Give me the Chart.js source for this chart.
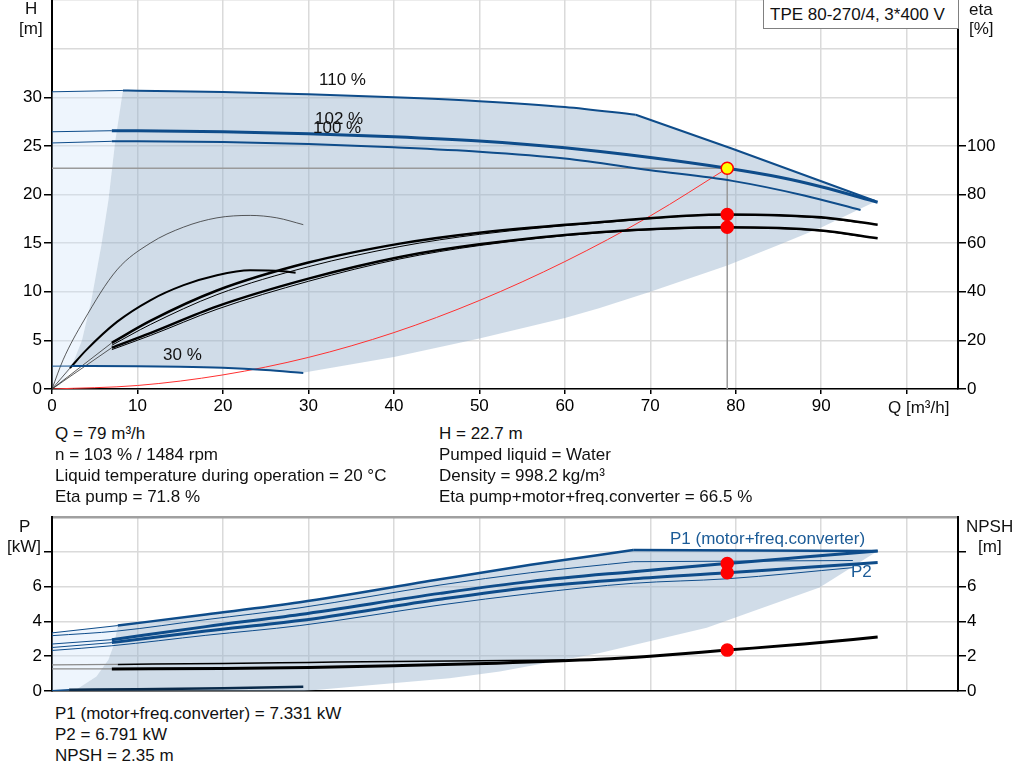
<!DOCTYPE html>
<html>
<head>
<meta charset="utf-8">
<script src="https://cdn.jsdelivr.net/npm/chart.js@4.4.1/dist/chart.umd.min.js"></script>
<style>
  body { margin: 0; background: #fff; width: 1024px; height: 781px; overflow: hidden; position: relative;
         font-family: "Liberation Sans", Arial, sans-serif; font-size: 17px; color: #111; }
  canvas { position: absolute; left: 0; }
  .t { position: absolute; white-space: nowrap; line-height: 20px; }
  .blue { color: #1b5b97; }
  #title { position: absolute; left: 763px; top: -1px; width: 188px; height: 28px; line-height: 29px;
           padding-left: 6px; border: 1px solid #808080; background: #fff; color: #111; }
</style>
</head>
<body>
<canvas id="top" width="1024" height="420" style="top:0"></canvas>
<canvas id="bottom" width="1024" height="200" style="top:500px"></canvas>

<div id="title">TPE 80-270/4, 3*400 V</div>
<div class="t" style="left:25px;top:-1px">H</div>
<div class="t" style="left:19px;top:19px">[m]</div>
<div class="t" style="left:969px;top:0px">eta</div>
<div class="t" style="left:969px;top:19px">[%]</div>
<div class="t" style="left:888px;top:398px">Q [m³/h]</div>

<div class="t" style="left:319px;top:70px">110 %</div>
<div class="t" style="left:315px;top:109px">102 %</div>
<div class="t" style="left:313px;top:118px">100 %</div>
<div class="t" style="left:163px;top:345px">30 %</div>

<div class="t" style="left:55px;top:424px">Q = 79 m³/h</div>
<div class="t" style="left:55px;top:445px">n = 103 % / 1484 rpm</div>
<div class="t" style="left:55px;top:466px">Liquid temperature during operation = 20 °C</div>
<div class="t" style="left:55px;top:487px">Eta pump = 71.8 %</div>
<div class="t" style="left:439px;top:424px">H = 22.7 m</div>
<div class="t" style="left:439px;top:445px">Pumped liquid = Water</div>
<div class="t" style="left:439px;top:466px">Density = 998.2 kg/m³</div>
<div class="t" style="left:439px;top:487px">Eta pump+motor+freq.converter = 66.5 %</div>

<div class="t" style="left:19px;top:517px">P</div>
<div class="t" style="left:7px;top:537px">[kW]</div>
<div class="t" style="left:966px;top:517px">NPSH</div>
<div class="t" style="left:978px;top:537px">[m]</div>
<div class="t blue" style="left:670px;top:529px">P1 (motor+freq.converter)</div>
<div class="t blue" style="left:851px;top:562px">P2</div>

<div class="t" style="left:55px;top:704px">P1 (motor+freq.converter) = 7.331 kW</div>
<div class="t" style="left:55px;top:725px">P2 = 6.791 kW</div>
<div class="t" style="left:55px;top:746px">NPSH = 2.35 m</div>

<script>
// axis ticks
const qTicks = [0, 10, 20, 30, 40, 50, 60, 70, 80, 90, 100];
const hTicks = [0, 5, 10, 15, 20, 25, 30, 35, 40];
const etaTicks = [0, 20, 40, 60, 80, 100];
const pTicks = [0, 2, 4, 6, 8, 10];
const npshTicks = [0, 2, 4, 6, 8];

// duty point
const dutyQ = 79;
const dutyH = 22.7;
const dutyEtaPump = 71.8;
const dutyEtaTotal = 66.5;
const dutyP1 = 7.331;
const dutyP2 = 6.791;
const dutyNpsh = 2.35;

// QH curves (m3/h, m)
const h110LeadQ = [0, 8.3];
const h110Lead = [30.56, 30.7];
const h110Q = [8.3, 10, 20, 30, 40, 50, 60, 68.3];
const h110 = [30.7, 30.67, 30.55, 30.3, 30.0, 29.6, 29.0, 28.2];
const h110TailQ = [68.3, 79.6, 96.4];
const h110Tail = [28.2, 24.7, 19.3];
const h102LeadQ = [0, 7];
const h102Lead = [26.45, 26.56];
const h102Q = [7, 10, 20, 30, 40, 50, 60, 70, 79, 85, 90, 96.6];
const h102 = [26.56, 26.55, 26.45, 26.25, 25.95, 25.5, 24.8, 23.8, 22.7, 21.8, 20.8, 19.2];
const h100LeadQ = [0, 7];
const h100Lead = [25.3, 25.47];
const h100Q = [7, 10, 20, 30, 40, 50, 60, 70, 79.6, 88, 94.6];
const h100 = [25.47, 25.47, 25.4, 25.2, 24.85, 24.4, 23.7, 22.5, 21.4, 19.9, 18.4];
const h30LeadQ = [0, 2.3];
const h30Lead = [2.35, 2.36];
const h30Q = [2.3, 10, 15, 20, 25, 29.4];
const h30 = [2.36, 2.35, 2.3, 2.18, 1.95, 1.65];
const sysQ = [0, 10, 20, 30, 40, 50, 60, 70, 79];
const sysH = [0, 0.36, 1.45, 3.25, 5.8, 9.1, 13.1, 17.8, 22.7];

// operating areas, top chart
const lightTopQ = [0, 1, 1.7, 2.3, 3.5, 4.6, 5.8, 6.6, 7.4, 8.3, 0];
const lightTopH = [0, 0.44, 1.3, 2.35, 5.0, 9.1, 14.9, 19.4, 25.5, 30.7, 30.56];
const areaTopQ = [2.3, 3.5, 4.6, 5.8, 6.6, 7.4, 8.3, 20, 30, 40, 50, 60, 68.3, 79.6, 96.4, 90, 85, 79, 70, 64, 60, 50, 40, 29.5, 25, 20, 10, 2.3];
const areaTopH = [2.35, 5.0, 9.1, 14.9, 19.4, 25.5, 30.7, 30.55, 30.3, 30.0, 29.6, 29.0, 28.2, 24.7, 19.3, 16.6, 14.8, 12.7, 10.0, 8.3, 7.3, 5.2, 3.3, 1.7, 1.95, 2.18, 2.35, 2.35];

// efficiency curves (%)
const eta30PumpQ = [0, 1.3, 3.7, 7.6, 11.5, 15.4, 19.3, 23.2, 26.3, 29.4];
const eta30Pump = [0, 12, 28, 49, 60, 66.6, 70.4, 71.4, 70.4, 67.6];
const eta30TotLeadQ = [0, 2.1];
const eta30TotLead = [0, 8.6];
const eta30TotQ = [2.1, 4, 7.6, 11.5, 15.4, 19.3, 23.2, 27, 28.5];
const eta30Tot = [8.6, 16, 27.6, 36.5, 42.7, 46.8, 48.8, 48.4, 47.8];
const etaLeadQ = [0, 7];
const etaPumpLead = [0, 19];
const etaTotLead = [0, 17];
const etaQ = [7, 11.5, 19.3, 30, 40.7, 50, 64, 79, 90, 96.6];
const etaPump102 = [19, 28, 40.5, 52, 59.8, 64.3, 68.6, 71.8, 70.6, 67.6];
const etaTot102 = [17, 23, 34, 45.4, 54.3, 59.5, 64.5, 66.5, 65.2, 62];
const eta100Q = [7, 11.5, 19.3, 30, 40.7, 50, 64, 79, 90, 94.6];
const etaPump100 = [18, 26.5, 38.8, 50.3, 58.6, 63.6, 68.3, 71.6, 70.3, 68.4];
const etaTot100 = [16.2, 22, 32.8, 44.3, 53.5, 59, 64.2, 66.3, 65, 62.8];

// power curves (kW)
const pALeadQ = [0, 7.7];
const pALead = [3.34, 3.76];
const pAQ = [7.7, 18, 29, 45.4, 56, 68];
const pA = [3.76, 4.4, 5.1, 6.42, 7.25, 8.1];
const pATailQ = [68, 96.6];
const pATail = [8.1, 8.05];
const pBQ = [0, 7.7, 18, 29, 45.4, 56, 68];
const pB = [3.18, 3.45, 4.1, 4.78, 6.09, 6.8, 7.43];
const pBTailQ = [68, 93.7];
const pBTail = [7.43, 7.5];
const pLeadQ = [0, 7];
const pCLead = [2.7, 2.95];
const pDLead = [2.5, 2.78];
const pQ = [7, 18, 29, 45.4, 56, 68, 79, 88, 96.6];
const pC = [2.95, 3.7, 4.4, 5.61, 6.3, 6.86, 7.33, 7.7, 8.05];
const pD = [2.78, 3.45, 4.05, 5.27, 5.95, 6.45, 6.79, 7.1, 7.38];
const pEQ = [0, 7, 18, 29, 45.4, 56, 68, 79, 93.7];
const pE = [2.33, 2.6, 3.2, 3.76, 4.94, 5.6, 6.19, 6.45, 7.09];
const p30LeadQ = [0, 2];
const p30Lead = [0.02, 0.07];
const p30Q = [2, 10, 20, 29.4];
const p30 = [0.07, 0.1, 0.16, 0.25];

// NPSH curves (m)
const npshQ = [7, 20, 30, 40, 52, 64, 70, 79, 88, 96.6];
const npsh = [1.27, 1.3, 1.35, 1.45, 1.6, 1.82, 2.0, 2.35, 2.7, 3.1];
const npsh2Q = [7.7, 20, 30, 40, 50, 60];
const npsh2 = [1.53, 1.58, 1.64, 1.7, 1.74, 1.78];
const npshLeadQ = [0, 7];
const npshLead = [1.27, 1.27];
const npsh2LeadQ = [0, 7.7];
const npsh2Lead = [1.5, 1.53];

// operating areas, bottom chart
const lightBotQ = [0, 0.5, 2.9, 5.2, 6.6, 7.3, 7.7, 0];
const lightBotP = [0, 0, 0.1, 0.83, 1.79, 2.75, 3.76, 3.34];
const areaBotQ = [0.5, 2.9, 5.2, 6.6, 7.3, 7.7, 18, 29, 45.4, 56, 68, 96.6, 89.8, 76.6, 64.1, 52.4, 46.5, 29.5, 0.5];
const areaBotP = [0, 0.1, 0.83, 1.79, 2.75, 3.76, 4.4, 5.1, 6.42, 7.25, 8.1, 8.05, 5.95, 3.64, 2.19, 1.12, 0.73, 0, 0];

const BLUE = '#0e4c8a';
const BLACK = '#000';
const GRID = '#dadada';
const FONT = { family: "'Liberation Sans', Arial, sans-serif", size: 17 };

function pts(xs, ys) {
  return xs.map((x, i) => ({ x: x, y: ys[i] }));
}

function curve(xs, ys, color, width, axis) {
  return {
    data: pts(xs, ys), showLine: true, borderColor: color, borderWidth: width,
    pointRadius: 0, fill: false, cubicInterpolationMode: 'monotone',
    yAxisID: axis || 'y', order: 5
  };
}

function straight(xs, ys, color, width, axis) {
  return Object.assign(curve(xs, ys, color, width, axis), { cubicInterpolationMode: 'default', tension: 0 });
}

function area(xs, ys, color, ord) {
  return {
    data: pts(xs, ys), showLine: true, borderColor: 'rgba(0,0,0,0)', borderWidth: 1,
    backgroundColor: color, pointRadius: 0, fill: 'shape', tension: 0, order: ord
  };
}

function dot(x, y, color, axis) {
  return {
    data: [{ x: x, y: y }], showLine: false, pointRadius: 6, pointBorderWidth: 1.5,
    pointBackgroundColor: color, pointBorderColor: '#ff0000', yAxisID: axis || 'y', order: 0
  };
}

function setTicks(list) {
  return function (scale) { scale.ticks = list.map(v => ({ value: v })); };
}

function xScale(height, showLabels) {
  return {
    type: 'linear', min: 0, max: 106,
    afterBuildTicks: setTicks(qTicks),
    afterFit: s => { s.height = height; s.paddingLeft = 0; s.paddingRight = 0; },
    ticks: { display: showLabels, callback: v => (v < 100 ? v : ''), font: FONT, color: BLACK, padding: 2, maxRotation: 0, autoSkip: false },
    grid: { color: GRID, lineWidth: 1.5, drawTicks: showLabels, tickLength: 5, tickColor: BLACK, tickWidth: 1.5 },
    border: { color: BLACK, width: 1.5 }
  };
}

function sideScale(pos, max, ticks, labelMax, markMax, width, onArea, topColor) {
  return {
    type: 'linear', position: pos, min: 0, max: max,
    afterBuildTicks: setTicks(ticks),
    afterFit: s => { s.width = width; s.paddingTop = 0; s.paddingBottom = 0; },
    ticks: { callback: v => (v <= labelMax ? v : ''), font: FONT, color: BLACK, padding: pos === 'left' ? 2 : 1 },
    grid: {
      drawOnChartArea: onArea, tickLength: 8, tickWidth: 1.5,
      lineWidth: c => (c.tick && c.tick.value === max && topColor ? 2.5 : 1.5),
      color: c => (c.tick && c.tick.value === max && topColor ? topColor : GRID),
      tickColor: c => (c.tick && c.tick.value <= markMax ? BLACK : 'rgba(0,0,0,0)')
    },
    border: { color: BLACK, width: 2 }
  };
}

const baseOptions = {
  responsive: false, animation: false,
  plugins: { legend: { display: false }, tooltip: { enabled: false } },
  events: []
};

// top: head and efficiency
new Chart(document.getElementById('top'), {
  type: 'scatter',
  data: {
    datasets: [
      area(lightTopQ, lightTopH, 'rgba(205,227,249,0.35)', 20),
      area(areaTopQ, areaTopH, 'rgba(150,178,205,0.45)', 19),
      Object.assign(straight([0, dutyQ], [dutyH, dutyH], '#9a9a9a', 1.5), { order: 15 }),
      Object.assign(straight([dutyQ, dutyQ], [dutyH, 0], '#9a9a9a', 1.5), { order: 15 }),
      Object.assign(curve(sysQ, sysH, '#ff3030', 1), { order: 12 }),
      straight(h110LeadQ, h110Lead, BLUE, 1),
      curve(h110Q, h110, BLUE, 2),
      straight(h110TailQ, h110Tail, BLUE, 2),
      straight(h102LeadQ, h102Lead, BLUE, 1),
      curve(h102Q, h102, BLUE, 3),
      straight(h100LeadQ, h100Lead, BLUE, 1),
      curve(h100Q, h100, BLUE, 2),
      straight(h30LeadQ, h30Lead, BLUE, 1),
      curve(h30Q, h30, BLUE, 2),
      curve(eta30PumpQ, eta30Pump, '#333', 0.8, 'eta'),
      straight(eta30TotLeadQ, eta30TotLead, '#333', 0.8, 'eta'),
      curve(eta30TotQ, eta30Tot, BLACK, 2, 'eta'),
      straight(etaLeadQ, etaPumpLead, '#333', 0.8, 'eta'),
      straight(etaLeadQ, etaTotLead, '#333', 0.8, 'eta'),
      curve(eta100Q, etaPump100, BLACK, 1, 'eta'),
      curve(eta100Q, etaTot100, BLACK, 1, 'eta'),
      curve(etaQ, etaPump102, BLACK, 2.5, 'eta'),
      curve(etaQ, etaTot102, BLACK, 2.5, 'eta'),
      dot(dutyQ, dutyEtaPump, '#ff0000', 'eta'),
      dot(dutyQ, dutyEtaTotal, '#ff0000', 'eta'),
      dot(dutyQ, dutyH, '#ffff00')
    ]
  },
  options: Object.assign({}, baseOptions, {
    layout: { autoPadding: false, padding: { top: 0, left: 0, right: 0, bottom: 0 } },
    scales: {
      x: xScale(31, true),
      y: sideScale('left', 40, hTicks, 30, 30, 52, true, null),
      eta: sideScale('right', 160, etaTicks, 100, 100, 66, false, null)
    }
  })
});

// bottom: power and NPSH
new Chart(document.getElementById('bottom'), {
  type: 'scatter',
  data: {
    datasets: [
      area(lightBotQ, lightBotP, 'rgba(205,227,249,0.35)', 20),
      area(areaBotQ, areaBotP, 'rgba(150,178,205,0.45)', 19),
      Object.assign(straight(npshLeadQ, npshLead, '#8a8a8a', 1.2, 'npsh'), { order: 8 }),
      Object.assign(straight(npsh2LeadQ, npsh2Lead, '#8a8a8a', 1.2, 'npsh'), { order: 8 }),
      straight(pALeadQ, pALead, BLUE, 1),
      curve(pAQ, pA, BLUE, 2.5),
      straight(pATailQ, pATail, BLUE, 2.5),
      curve(pBQ, pB, BLUE, 1),
      straight(pBTailQ, pBTail, BLUE, 1),
      straight(pLeadQ, pCLead, BLUE, 1),
      straight(pLeadQ, pDLead, BLUE, 1),
      curve(pQ, pC, BLUE, 3),
      curve(pQ, pD, BLUE, 3),
      curve(pEQ, pE, BLUE, 1),
      straight(p30LeadQ, p30Lead, BLUE, 1.5),
      curve(p30Q, p30, '#0a2a4a', 2.5),
      curve(npsh2Q, npsh2, BLACK, 1.5, 'npsh'),
      curve(npshQ, npsh, BLACK, 3, 'npsh'),
      dot(dutyQ, dutyP1, '#ff0000'),
      dot(dutyQ, dutyP2, '#ff0000'),
      dot(dutyQ, dutyNpsh, '#ff0000', 'npsh')
    ]
  },
  options: Object.assign({}, baseOptions, {
    layout: { autoPadding: false, padding: { top: 17, left: 0, right: 0, bottom: 0 } },
    scales: {
      x: xScale(9, false),
      y: sideScale('left', 10, pTicks, 6, 8, 52, true, '#a0a0a0'),
      npsh: sideScale('right', 10, npshTicks, 6, 8, 66, false, null)
    }
  })
});
</script>
</body>
</html>
